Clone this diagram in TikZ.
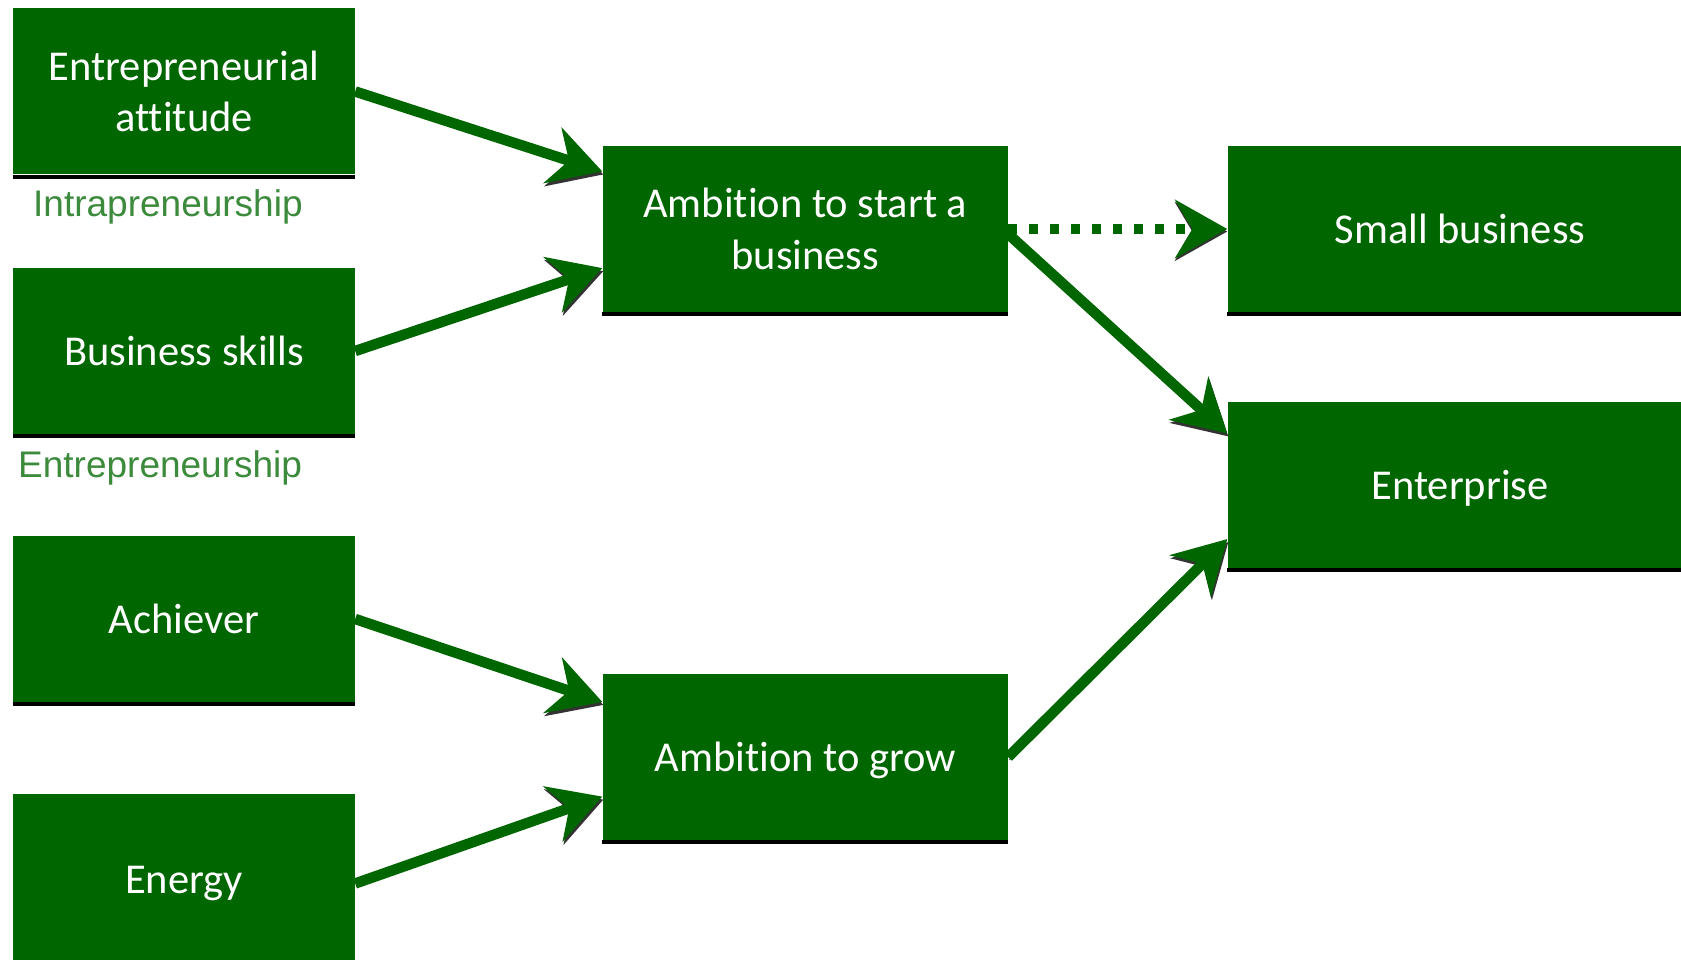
\documentclass[tikz,border=0pt]{standalone}
\usepackage{fontspec}
\setmainfont[Ligatures=NoCommon]{Carlito}
\newfontfamily\labfont{Liberation Sans}
\usetikzlibrary{arrows.meta,calc}
\definecolor{boxgreen}{RGB}{0,102,0}
\definecolor{labgreen}{RGB}{60,138,60}
\newcommand\dn[1]{\raisebox{-3pt}[\height][\depth]{#1}}
\begin{document}
\begin{tikzpicture}[x=1pt,y=-1pt,
  box/.style={fill=boxgreen, text=white, minimum width=342pt, minimum height=166pt,
    inner sep=0pt, align=center, font=\fontsize{42.5}{51.5}\selectfont},
  wide/.style={minimum width=405.5pt},
  wider/.style={minimum width=465pt},
  arr/.style={draw=boxgreen, line width=10.5pt, -{Stealth[length=52pt,width=58pt,inset=17pt]},
    preaction={draw=black!80, dash pattern=on 2pt off 1.5pt, transform canvas={xshift=1pt,yshift=-3pt}}},
  dotarr/.style={draw=boxgreen, line width=10.5pt, -{Stealth[length=52pt,width=58pt,inset=17pt]},
    dash pattern=on 9pt off 12pt,
    preaction={draw=black!80, dash pattern=on 9pt off 12pt, transform canvas={xshift=0pt,yshift=-2.5pt}}},
  lab/.style={text=labgreen, font=\labfont\fontsize{37}{44}\selectfont, anchor=base west, inner sep=0pt},
  base/.style={draw=black, line width=4pt}]
\useasboundingbox (0,0) rectangle (1681,960);
\fill[white] (0,0) rectangle (1681,960);

\node[box] (ea) at (184,91.5) {Entrepreneurial\\attitude};
\node[box] (bs) at (184,351) {Business skills};
\node[box] (ac) at (184,619) {Achiever};
\node[box,minimum height=179pt] (en) at (184,883.5) {Energy};
\node[box,wide] (as) at (805.25,229) {Ambition to start a\\business};
\node[box,wide] (ag) at (805.25,757) {\dn{Ambition to grow}};
\node[box,wider] (sb) at (1460,229) {Small business};
\node[box,wider] (ent) at (1460,485) {\dn{Enterprise}};

\foreach \n in {ea,bs,ac,as,ag,sb,ent}{
  \draw[base] ([yshift=-2pt]\n.south west) -- ([yshift=-2pt]\n.south east);
}

\node[lab] (intra) at (33,216.5) {Intrapreneurship};
\node[lab] (entre) at (18,477) {Entrepreneurship};

\draw[arr] (ea.east) -- ($(as.north west)!0.154!(as.south west)$);
\draw[arr] (bs.east) -- ($(as.north west)!0.735!(as.south west)$);
\draw[arr] (ac.east) -- ($(ag.north west)!0.169!(ag.south west)$);
\draw[arr] (en.east) -- ($(ag.north west)!0.738!(ag.south west)$);
\draw[dotarr] (as.east) -- (sb.west);
\draw[arr] ([yshift=-5pt]as.east) -- ($(ent.north west)!0.19!(ent.south west)$);
\draw[arr] (ag.east) -- ($(ent.north west)!0.825!(ent.south west)$);
\end{tikzpicture}
\end{document}
